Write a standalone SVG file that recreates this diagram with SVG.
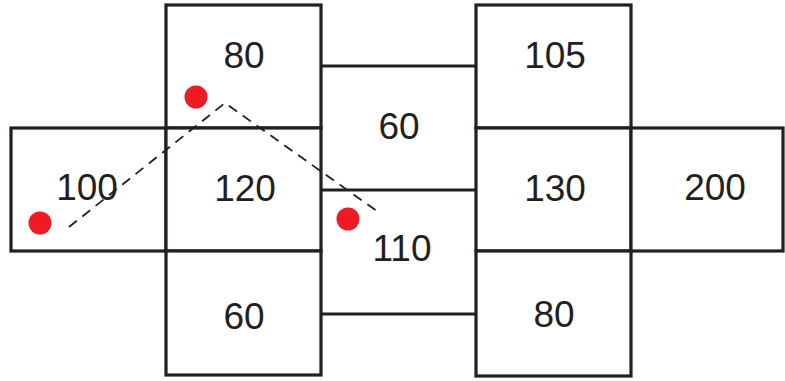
<svg xmlns="http://www.w3.org/2000/svg" width="785" height="381" viewBox="0 0 785 381">
<style>
.box{fill:#fff;stroke:#231f20;stroke-width:3.2}
.ln{stroke:#231f20;stroke-width:3.2;fill:none}
text{font-family:"Liberation Sans",Arial,sans-serif;font-size:37px;fill:#231f20;text-anchor:middle}
.dot{fill:#ed1c24}
</style>
<rect width="785" height="381" fill="#fff"/>
<g id="n100"><rect class="box" x="11" y="128" width="155" height="123"/><text x="87" y="200">100</text></g>
<g id="n80a"><rect class="box" x="166" y="5" width="155" height="123"/><text x="244" y="68">80</text></g>
<g id="n120"><rect class="box" x="166" y="128" width="155" height="123"/><text x="245" y="201">120</text></g>
<g id="n60b"><rect class="box" x="166" y="251" width="155" height="124"/><text x="244" y="329">60</text></g>
<g id="n60"><text x="399" y="139">60</text></g>
<g id="n110"><text x="402" y="261">110</text></g>
<g id="n105"><rect class="box" x="476" y="5" width="155" height="123"/><text x="555" y="68">105</text></g>
<g id="n130"><rect class="box" x="476" y="128" width="155" height="123"/><text x="555" y="201">130</text></g>
<g id="n80b"><rect class="box" x="476" y="251" width="155" height="125"/><text x="554" y="327">80</text></g>
<g id="n200"><rect class="box" x="631" y="128" width="152" height="123"/><text x="715" y="200">200</text></g>
<g id="connectors">
<line class="ln" x1="321" y1="66" x2="476" y2="66"/>
<line class="ln" x1="321" y1="190" x2="476" y2="190"/>
<line class="ln" x1="321" y1="314" x2="476" y2="314"/>
<polyline points="69,227 225,103 381,214" fill="none" stroke="#231f20" stroke-width="1.8" stroke-dasharray="10,7"/>
<circle class="dot" cx="40" cy="223" r="11.5"/>
<circle class="dot" cx="196" cy="97" r="11.5"/>
<circle class="dot" cx="348" cy="219" r="11.5"/>
</g>
</svg>
